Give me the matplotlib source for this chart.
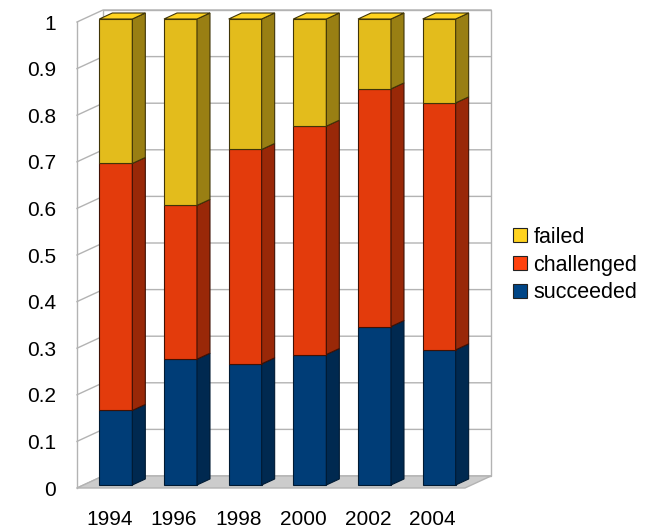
import matplotlib
matplotlib.use('Agg')
import matplotlib.pyplot as plt
from matplotlib.patches import Polygon, Patch
import numpy as np

# Data (share of projects per year)
years = ['1994', '1996', '1998', '2000', '2002', '2004']
succeeded = [0.16, 0.27, 0.26, 0.28, 0.34, 0.29]
challenged = [0.53, 0.33, 0.46, 0.49, 0.51, 0.53]
failed = [0.31, 0.40, 0.28, 0.23, 0.15, 0.18]
series_names = ['succeeded', 'challenged', 'failed']
base_colors = ['#004586', '#ff420e', '#ffd320']

plt.rcParams['font.family'] = ['Liberation Sans', 'DejaVu Sans']

''' - - - - - helpers - - - - - '''

def shade(hex_color, f):
    rgb = np.array(matplotlib.colors.to_rgb(hex_color))
    return tuple(rgb * f)


def shift(x, y, z):
    # oblique projection: depth z in [0, 1]
    return x + depth_dx * z, y + depth_dy * z


# Figure geometry (front plane of the 3D box)
W, H = 651, 529
fig = plt.figure(figsize=(W / 100, H / 100), dpi=100)
left_px, right_px = 77, 465
bottom_px, top_px = 488, 22
ax = fig.add_axes([left_px / W, 1 - bottom_px / H,
                   (right_px - left_px) / W, (bottom_px - top_px) / H])
n = len(years)
ax.set_xlim(0, n)
ax.set_ylim(0, 1)
depth_dx = 26 / ((right_px - left_px) / n)
depth_dy = 12 / (bottom_px - top_px)

grid_color = '#b3b3b3'

# back wall
bx0, by0 = shift(0, 0, 1)
bx1, by1 = shift(n, 1, 1)
ax.add_patch(Polygon([(bx0, by0), (bx1, by0), (bx1, by1), (bx0, by1)],
                     closed=True, facecolor='white', edgecolor=grid_color,
                     lw=1, clip_on=False, zorder=1))
ticks = np.round(np.arange(0, 1.01, 0.1), 1)
for t in ticks:
    xa, ya = shift(0, t, 0)
    xb, yb = shift(0, t, 1)
    xc, yc = shift(n, t, 1)
    ax.plot([xa, xb, xc], [ya, yb, yc], color=grid_color, lw=1,
            clip_on=False, zorder=1.5)
ax.plot([0, 0], [0, 1], color=grid_color, lw=1, clip_on=False, zorder=1.5)

# floor
fx = [0, n, shift(n, 0, 1)[0], shift(0, 0, 1)[0]]
fy = [0, 0, shift(n, 0, 1)[1], shift(0, 0, 1)[1]]
ax.add_patch(Polygon(list(zip(fx, fy)), closed=True, facecolor='#cccccc',
                     edgecolor=grid_color, lw=1, clip_on=False, zorder=2))

# stacked 3D bars
bar_w = 0.51
z0, z1 = 0.25, 0.75
stack = [succeeded, challenged, failed]
for i in range(n):
    bottom = 0
    for k, vals in enumerate(stack):
        v = vals[i]
        top = bottom + v
        xl = i + 0.5 - bar_w / 2
        xr = i + 0.5 + bar_w / 2
        base = base_colors[k]
        front_c = shade(base, 0.89)
        side_c = shade(base, 0.6)
        edge_c = shade(base, 0.25) if k > 0 else '#001a33'
        # front face
        p = [shift(xl, bottom, z0), shift(xr, bottom, z0),
             shift(xr, top, z0), shift(xl, top, z0)]
        ax.add_patch(Polygon(p, closed=True, facecolor=front_c,
                             edgecolor=edge_c, lw=0.8, clip_on=False,
                             zorder=3 + i * 0.01))
        # side face
        p = [shift(xr, bottom, z0), shift(xr, bottom, z1),
             shift(xr, top, z1), shift(xr, top, z0)]
        ax.add_patch(Polygon(p, closed=True, facecolor=side_c,
                             edgecolor=edge_c, lw=0.8, clip_on=False,
                             zorder=3 + i * 0.01))
        if k == len(stack) - 1:
            p = [shift(xl, top, z0), shift(xr, top, z0),
                 shift(xr, top, z1), shift(xl, top, z1)]
            ax.add_patch(Polygon(p, closed=True, facecolor=base,
                                 edgecolor=edge_c, lw=0.8, clip_on=False,
                                 zorder=3 + i * 0.01))
        bottom = top

# axes and ticks
for s in ax.spines.values():
    s.set_visible(False)
ax.set_facecolor('none')
ax.set_yticks(ticks)
ax.set_yticklabels(['0', '0.1', '0.2', '0.3', '0.4', '0.5', '0.6', '0.7',
                    '0.8', '0.9', '1'])
ax.set_xticks(np.arange(n) + 0.5)
ax.set_xticklabels(years)
ax.tick_params(axis='y', length=0, pad=15, labelsize=15, colors='black')
ax.tick_params(axis='x', length=0, pad=16, labelsize=15, colors='black')

# legend
handles = [Patch(facecolor=base_colors[k], edgecolor='#222222', lw=0.8,
                 label=series_names[k]) for k in [2, 1, 0]]
fig.legend(handles=handles, loc='center left',
           bbox_to_anchor=(513 / W, 1 - 265 / H), frameon=False,
           fontsize=15.5, handlelength=0.65, handleheight=0.65,
           handletextpad=0.3, labelspacing=0.32, borderpad=0,
           borderaxespad=0)

fig.savefig('out.png', dpi=100)
